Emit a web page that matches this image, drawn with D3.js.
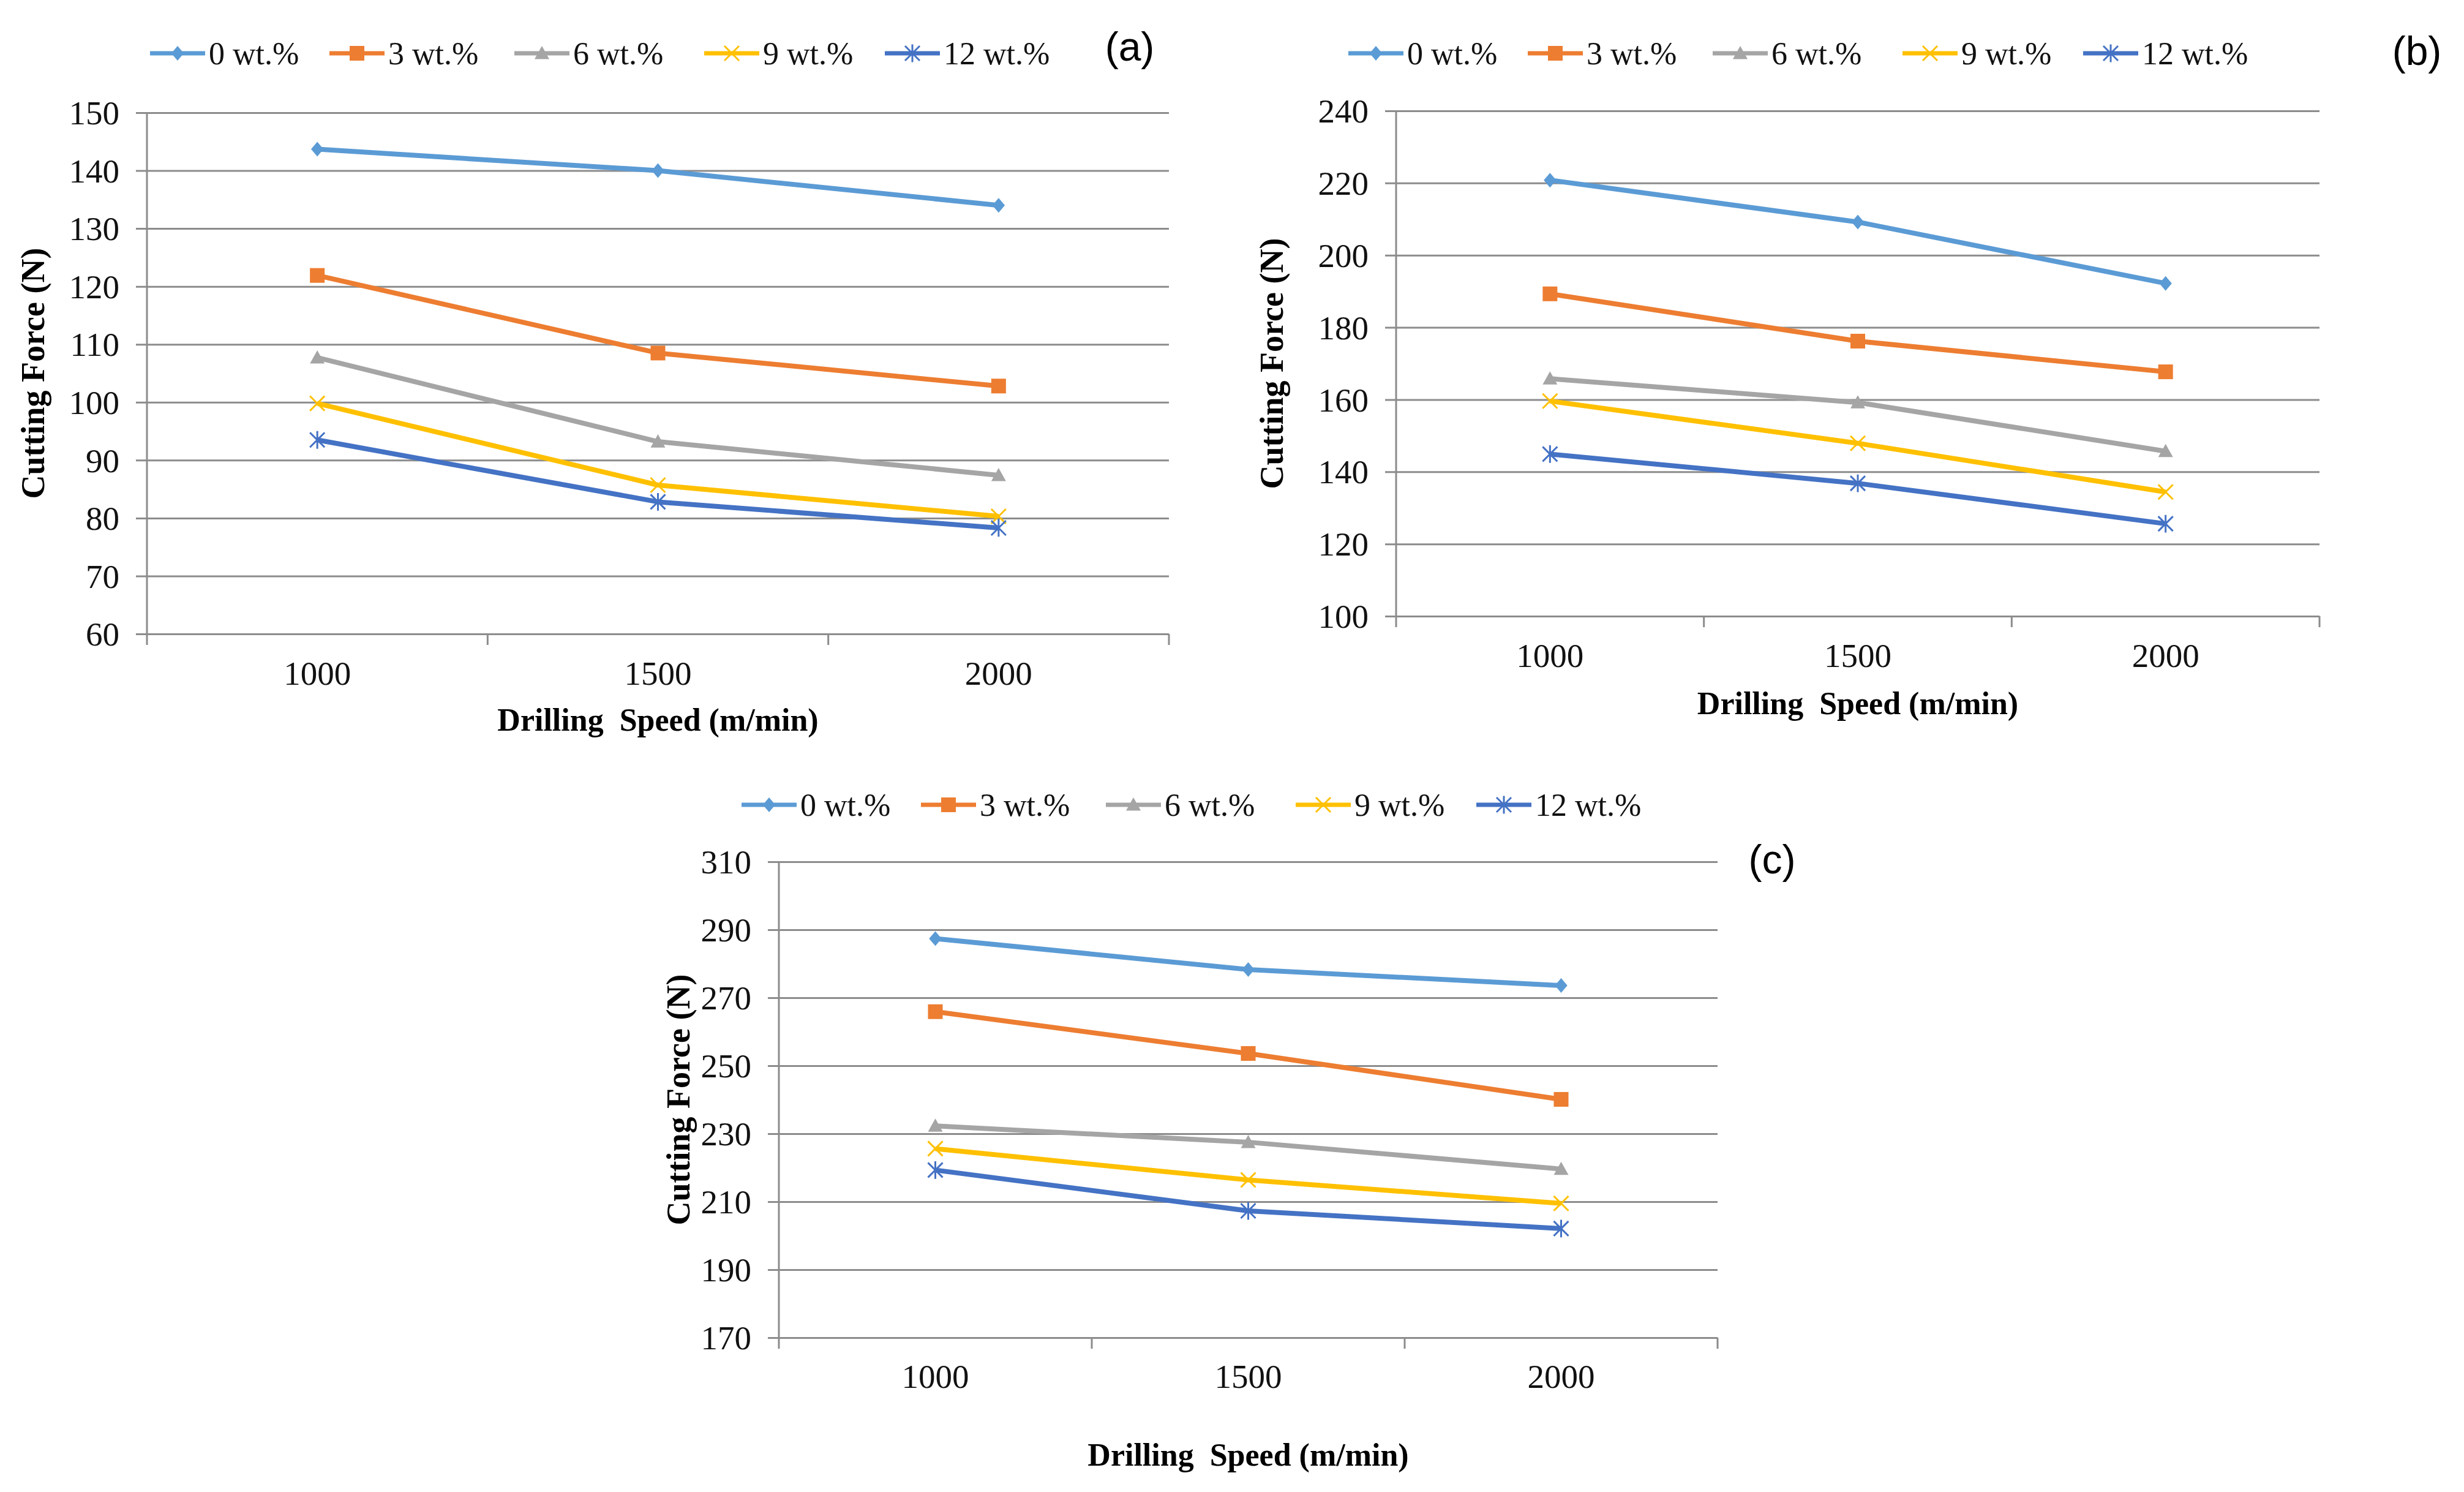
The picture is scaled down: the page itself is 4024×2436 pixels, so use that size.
<!DOCTYPE html>
<html><head><meta charset="utf-8">
<script src="https://cdn.jsdelivr.net/npm/d3@7"></script>
<style>body{margin:0;background:#fff} svg{display:block}</style>
</head><body>
<script>
// ---- data ----
const categories = [1000, 1500, 2000];
const seriesNames = ["0 wt.%", "3 wt.%", "6 wt.%", "9 wt.%", "12 wt.%"];
const seriesColors = ["#5B9BD5", "#ED7D31", "#A5A5A5", "#FFC000", "#4472C4"];
const seriesMarkers = ["diamond", "square", "triangle", "x", "star"];

const forceA_0 = [143.7, 140.0, 134.0];
const forceA_3 = [121.9, 108.5, 102.8];
const forceA_6 = [107.7, 93.2, 87.4];
const forceA_9 = [99.8, 85.7, 80.3];
const forceA_12 = [93.5, 82.8, 78.3];

const forceB_0 = [220.8, 209.2, 192.2];
const forceB_3 = [189.3, 176.2, 167.7];
const forceB_6 = [165.8, 159.2, 145.7];
const forceB_9 = [159.6, 147.9, 134.4];
const forceB_12 = [144.9, 136.8, 125.6];

const forceC_0 = [287.4, 278.3, 273.6];
const forceC_3 = [265.9, 253.6, 240.1];
const forceC_6 = [232.3, 227.5, 219.6];
const forceC_9 = [225.6, 216.4, 209.5];
const forceC_12 = [219.3, 207.3, 202.1];

const yTicksA = [60, 70, 80, 90, 100, 110, 120, 130, 140, 150];
const yTicksB = [100, 120, 140, 160, 180, 200, 220, 240];
const yTicksC = [170, 190, 210, 230, 250, 270, 290, 310];

const xTitle = "Drilling  Speed (m/min)";
const yTitle = "Cutting Force (N)";

// ---- layout ----
const W = 4024, H = 2436;
const panels = [
  {series:[forceA_0,forceA_3,forceA_6,forceA_9,forceA_12], ticks:yTicksA,
   left:240, right:1909, top:184, bottom:1035, legendX:245, legendY:87,
   tag:"(a)", tagX:1845, tagY:75, yTitleX:54, xLabelY:1099, xTitleY:1175},
  {series:[forceB_0,forceB_3,forceB_6,forceB_9,forceB_12], ticks:yTicksB,
   left:2280, right:3788, top:181, bottom:1006, legendX:2202, legendY:87,
   tag:"(b)", tagX:3947, tagY:82, yTitleX:2077, xLabelY:1070, xTitleY:1148},
  {series:[forceC_0,forceC_3,forceC_6,forceC_9,forceC_12], ticks:yTicksC,
   left:1272, right:2805, top:1407, bottom:2184, legendX:1211, legendY:1314,
   tag:"(c)", tagX:2894, tagY:1402, yTitleX:1108, xLabelY:2247, xTitleY:2375}
];
const legendOffsets = [0, 293, 595, 905, 1200];
const gridColor = "#8C8C8C";
const serif = "'Liberation Serif','Times New Roman',serif";

const svg = d3.select("body").append("svg").attr("width", W).attr("height", H)
  .style("background", "#fff");

function drawMarker(g, type, color, x, y, s) {
  if (type === "diamond") {
    g.append("path").attr("d", `M${x},${y-s}L${x+s*0.85},${y}L${x},${y+s}L${x-s*0.85},${y}Z`).attr("fill", color);
  } else if (type === "square") {
    g.append("rect").attr("x", x-s).attr("y", y-s).attr("width", 2*s).attr("height", 2*s).attr("fill", color);
  } else if (type === "triangle") {
    g.append("path").attr("d", `M${x},${y-s}L${x+s},${y+s*0.8}L${x-s},${y+s*0.8}Z`).attr("fill", color);
  } else if (type === "x") {
    g.append("path").attr("d", `M${x-s},${y-s}L${x+s},${y+s}M${x+s},${y-s}L${x-s},${y+s}`)
      .attr("stroke", color).attr("stroke-width", 3).attr("fill", "none");
  } else if (type === "star") {
    g.append("path").attr("d", `M${x-s},${y-s}L${x+s},${y+s}M${x+s},${y-s}L${x-s},${y+s}M${x},${y-s*1.2}L${x},${y+s*1.2}`)
      .attr("stroke", color).attr("stroke-width", 3).attr("fill", "none");
  }
}

panels.forEach(p => {
  const g = svg.append("g");
  const x = d3.scaleBand().domain(categories).range([p.left, p.right]).paddingInner(0).paddingOuter(0);
  const y = d3.scaleLinear().domain([p.ticks[0], p.ticks[p.ticks.length-1]]).range([p.bottom, p.top]);

  // y axis with gridlines
  const yAxis = d3.axisLeft(y).tickValues(p.ticks).tickSize(-(p.right - p.left)).tickSizeOuter(0).tickPadding(0);
  const ya = g.append("g").attr("transform", `translate(${p.left},0)`).call(yAxis);
  ya.select(".domain").remove();
  ya.selectAll(".tick line").attr("stroke", gridColor).attr("stroke-width", 3)
    .attr("x1", -18);
  ya.selectAll(".tick text").attr("x", -45).attr("font-family", serif).attr("font-size", 55)
    .attr("fill", "#111").attr("dy", "0.34em");
  g.append("line").attr("x1", p.left).attr("x2", p.left).attr("y1", p.top).attr("y2", p.bottom + 18)
    .attr("stroke", gridColor).attr("stroke-width", 3);

  // x axis: ticks at category boundaries
  const bounds = categories.map(c => x(c)).concat([p.right]);
  g.selectAll(".xb").data(bounds.slice(1)).join("line")
    .attr("x1", d => d).attr("x2", d => d).attr("y1", p.bottom).attr("y2", p.bottom + 18)
    .attr("stroke", gridColor).attr("stroke-width", 3);
  g.selectAll(".xl").data(categories).join("text")
    .attr("x", d => x(d) + x.bandwidth()/2).attr("y", p.xLabelY).attr("dy", "0.34em")
    .attr("text-anchor", "middle").attr("font-family", serif).attr("font-size", 55).attr("fill", "#111")
    .text(d => d);

  // titles
  g.append("text").attr("x", (p.left + p.right)/2).attr("y", p.xTitleY).attr("dy", "0.34em")
    .attr("text-anchor", "middle").attr("font-family", serif).attr("font-size", 52)
    .attr("font-weight", "bold").style("white-space", "pre").attr("fill", "#000").text(xTitle);
  g.append("text").attr("transform", `translate(${p.yTitleX},${(p.top + p.bottom)/2}) rotate(-90)`)
    .attr("dy", "0.34em").attr("text-anchor", "middle").attr("font-family", serif).attr("font-size", 54)
    .attr("font-weight", "bold").style("white-space", "pre").attr("fill", "#000").text(yTitle);

  // series
  const line = d3.line().x((d, i) => x(categories[i]) + x.bandwidth()/2).y(d => y(d));
  p.series.forEach((vals, si) => {
    g.append("path").datum(vals).attr("d", line).attr("fill", "none")
      .attr("stroke", seriesColors[si]).attr("stroke-width", 8).attr("stroke-linejoin", "round");
    vals.forEach((v, i) => drawMarker(g, seriesMarkers[si], seriesColors[si],
      x(categories[i]) + x.bandwidth()/2, y(v), 12));
  });

  // legend
  seriesNames.forEach((name, si) => {
    const lx = p.legendX + legendOffsets[si];
    g.append("line").attr("x1", lx).attr("x2", lx + 90).attr("y1", p.legendY).attr("y2", p.legendY)
      .attr("stroke", seriesColors[si]).attr("stroke-width", 7);
    drawMarker(g, seriesMarkers[si], seriesColors[si], lx + 45, p.legendY, 12);
    g.append("text").attr("x", lx + 96).attr("y", p.legendY).attr("dy", "0.34em")
      .attr("font-family", serif).attr("font-size", 52).attr("fill", "#111").text(name);
  });

  // panel tag
  g.append("text").attr("x", p.tagX).attr("y", p.tagY).attr("dy", "0.36em").attr("text-anchor", "middle")
    .attr("font-family", "'Liberation Sans',Arial,sans-serif").attr("font-size", 66).attr("fill", "#000")
    .text(p.tag);
});
</script>
</body></html>
